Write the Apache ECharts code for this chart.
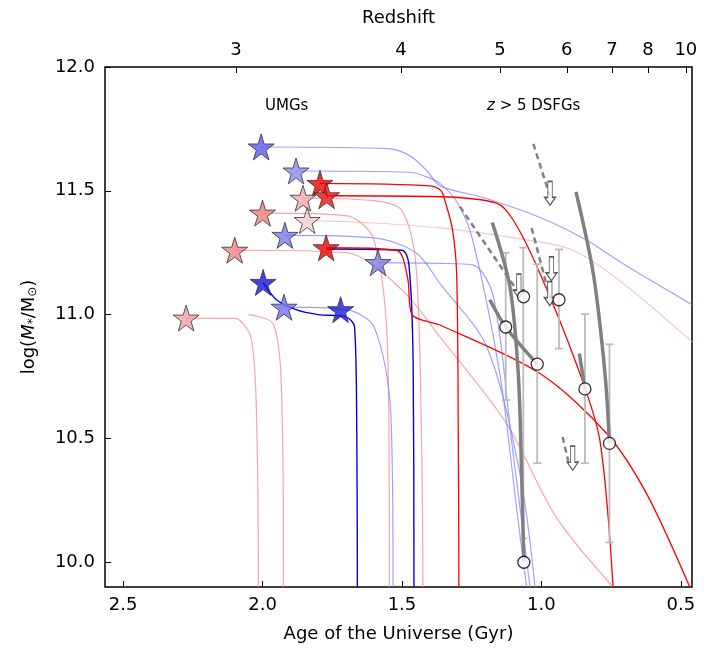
<!DOCTYPE html>
<html><head><meta charset="utf-8">
<script src="https://cdn.jsdelivr.net/npm/echarts@6/dist/echarts.min.js"></script>
<style>html,body{margin:0;background:#fff}#c{width:707px;height:649px}</style>
</head><body><div id="c"></div>
<script>
var xTicks=[2.5,2.0,1.5,1.0,0.5];
var yTicks=[10.0,10.5,11.0,11.5,12.0];
var zLabels=[3,4,5,6,7,8,10];
var zAges=[2.095,1.504,1.149,0.909,0.747,0.618,0.482];
// stars: [age, logM, colour]
var stars=[[2.005,11.677,'#5a5aee'],[1.88,11.58,'#8a8aee'],[1.794,11.53,'#ee0000'],[1.77,11.48,'#ee1010'],
[1.855,11.47,'#f2a8a8'],[1.84,11.38,'#f8cccc'],[2.0,11.41,'#ee7a7a'],[1.92,11.32,'#7878ec'],[2.10,11.26,'#ee8282'],
[1.772,11.27,'#ee0000'],[1.586,11.21,'#7c7ce8'],[1.998,11.13,'#1414dd'],[1.923,11.03,'#7070ea'],[1.72,11.02,'#1a1ae0'],[2.274,10.986,'#f0a0a0']];
var trackLightBlue=[
[[2.005,11.677],[1.55,11.67],[1.47,11.64],[1.41,11.58],[1.364,11.52],[1.2,11.47],[1.0,11.39],[0.838,11.30],[0.7,11.2],[0.46,11.04]],
[[1.88,11.58],[1.47,11.575],[1.42,11.56],[1.364,11.53],[1.3,11.45],[1.246,11.30],[1.149,10.76],[1.089,10.22],[1.053,9.9]],
[[1.92,11.32],[1.6,11.31],[1.45,11.25],[1.364,11.126],[1.196,10.87],[1.077,10.358],[1.023,9.9]],
[[1.586,11.21],[1.364,11.207],[1.244,11.2],[1.172,11.072],[1.107,10.49],[1.041,9.9]],
[[1.923,11.03],[1.7,11.02],[1.6,10.95],[1.54,10.6],[1.532,9.9]]];
var trackDarkBlue=[
[[1.998,11.13],[1.95,11.06],[1.88,11.02],[1.8,11.0],[1.7,10.99],[1.67,10.95],[1.662,10.5],[1.66,9.9]],
[[1.772,11.265],[1.5,11.26],[1.475,11.2],[1.46,10.8],[1.457,9.9]]];
var trackRed=[
[[1.794,11.53],[1.4,11.52],[1.36,11.5],[1.346,11.46],[1.32,11.35],[1.304,11.166],[1.298,10.5],[1.296,9.9]],
[[1.77,11.48],[1.364,11.476],[1.161,11.45],[1.1,11.38],[1.005,11.166],[0.862,10.762],[0.79,10.49],[0.743,9.9]],
[[1.772,11.27],[1.52,11.26],[1.48,11.15],[1.464,11.0],[1.364,10.958],[1.005,10.762],[0.766,10.52],[0.623,10.277],[0.468,9.9]]];
var trackPink=[
[[1.855,11.47],[1.6,11.46],[1.5,11.42],[1.45,11.2],[1.43,10.5],[1.425,9.9]],
[[2.0,11.41],[1.7,11.4],[1.6,11.3],[1.55,10.8],[1.545,9.9]],
[[2.10,11.26],[1.7,11.25],[1.5,11.1],[1.364,10.91],[1.125,10.56],[0.946,10.18],[0.743,9.9]],
[[2.274,10.986],[2.1,10.985],[2.04,10.9],[2.02,10.5],[2.015,9.9]],
[[2.05,11.0],[1.96,10.96],[1.93,10.6],[1.925,9.9]]];
var trackPale=[[[1.84,11.38],[1.6,11.37],[1.364,11.35],[1.1,11.31],[0.886,11.26],[0.7,11.12],[0.46,10.89]]];
var dsfg=[[1.064,11.072],[0.937,11.06],[1.128,10.95],[1.015,10.80],[0.844,10.70],[0.756,10.48],[1.063,10.0]];
var errBars=[[1.128,11.25,10.655],[1.065,11.27,10.096],[1.015,11.204,10.40],[0.937,11.263,10.863],[0.844,11.002,10.40],[0.756,10.88,10.08]];
var upperLimits=[[0.969,11.49],[1.081,11.115],[0.964,11.185],[0.970,11.085],[0.888,10.42]];
var grayDashed=[[[1.029,11.69],[0.970,11.48]],[[1.292,11.436],[1.077,11.08]],[[1.035,11.35],[0.970,11.07]],[[0.924,10.506],[0.904,10.41]]];
var graySolid=[[[1.176,11.372],[1.113,11.112],[1.083,10.762],[1.071,10.358],[1.063,10.0]],
[[1.185,11.06],[1.128,10.95],[1.015,10.80]],
[[0.876,11.496],[0.814,11.166],[0.772,10.762],[0.756,10.482]],
[[0.864,10.843],[0.844,10.70]]];

var starPath='path://M50,0 L61,35 L98,35 L68,57 L79,91 L50,70 L21,91 L32,57 L2,35 L39,35 Z';
var arrowPath='path://M3,0 L7,0 L7,12 L10,12 L5,18 L0,12 L3,12 Z';
var series=[];
function addLines(arr,color,w,op,type){arr.forEach(function(d){series.push({type:'line',data:d,showSymbol:false,smooth:0.3,silent:true,
 lineStyle:{color:color,width:w,opacity:op,type:type||'solid'},z:2});});}
addLines(trackPale,'#f6b8b8',1.2,0.8);
addLines(trackPink,'#f49090',1.2,0.8);
addLines(trackLightBlue,'#8080ff',1.2,0.75);
addLines(trackDarkBlue,'#0000ee',1.4,1);
addLines(trackRed,'#ff0000',1.3,1);
series.push({type:'custom',data:errBars,z:3,silent:true,renderItem:function(p,api){
 var t=api.coord([api.value(0),api.value(1)]),b=api.coord([api.value(0),api.value(2)]);var st={stroke:'#bbbbbb',lineWidth:1.8};
 return {type:'group',children:[{type:'line',shape:{x1:t[0],y1:t[1],x2:b[0],y2:b[1]},style:st},
 {type:'line',shape:{x1:t[0]-4,y1:t[1],x2:t[0]+4,y2:t[1]},style:st},{type:'line',shape:{x1:b[0]-4,y1:b[1],x2:b[0]+4,y2:b[1]},style:st}]};}});
graySolid.forEach(function(d){series.push({type:'line',data:d,showSymbol:false,smooth:0.3,silent:true,lineStyle:{color:'#808080',width:3.5},z:4});});
grayDashed.forEach(function(d){series.push({type:'line',data:d,showSymbol:false,silent:true,lineStyle:{color:'#808080',width:2.5,type:[6,4]},z:4});});
series.push({type:'scatter',data:upperLimits,symbol:arrowPath,symbolSize:[11,24],itemStyle:{color:'#fff',borderColor:'#333',borderWidth:1.2},z:5});
series.push({type:'scatter',data:dsfg,symbol:'circle',symbolSize:12,itemStyle:{color:'#fff',borderColor:'#000',borderWidth:1.3},z:6});
series.push({type:'scatter',data:stars.map(function(s){return {value:[s[0],s[1]],itemStyle:{color:s[2]}};}),symbol:starPath,symbolSize:26,
 itemStyle:{borderColor:'#333',borderWidth:1},z:7});

var ax={color:'#000',fontSize:18,fontFamily:'DejaVu Sans'};
var opt={animation:false,
 grid:{left:105,right:15,top:67,bottom:62,show:true,borderColor:'#000',borderWidth:1.5,backgroundColor:'transparent'},
 xAxis:[{type:'value',inverse:true,min:0.46,max:2.565,position:'bottom',splitLine:{show:false},
  axisLine:{show:false},axisTick:{inside:true,length:6,customValues:xTicks,lineStyle:{color:'#000'}},
  axisLabel:Object.assign({customValues:xTicks,margin:9,formatter:function(v){return v.toFixed(1);}},ax),
  name:'Age of the Universe (Gyr)',nameLocation:'middle',nameGap:38,nameTextStyle:ax},
  {type:'value',inverse:true,min:0.46,max:2.565,position:'top',splitLine:{show:false},axisLine:{show:false},
  axisTick:{inside:true,length:6,customValues:zAges,lineStyle:{color:'#000'}},
  axisLabel:Object.assign({customValues:zAges,margin:8,formatter:function(v){var i=zAges.indexOf(v);return i>=0?String(zLabels[i]):'';}},ax),
  name:'Redshift',nameLocation:'middle',nameGap:40,nameTextStyle:ax}],
 yAxis:{type:'value',min:9.9,max:12.0,splitLine:{show:false},axisLine:{show:false},
  axisTick:{inside:true,length:6,customValues:yTicks,lineStyle:{color:'#000'}},
  axisLabel:Object.assign({customValues:yTicks,margin:10,formatter:function(v){return v.toFixed(1);}},ax),
  name:'{a|log(}{i|M}{s|*}{a|/M}{s|⊙}{a|)}',nameLocation:'middle',nameGap:66,nameRotate:90,
  nameTextStyle:{rich:{a:ax,i:{color:'#000',fontSize:18,fontStyle:'italic',fontFamily:'DejaVu Sans'},s:{color:'#000',fontSize:12,fontFamily:'DejaVu Sans',verticalAlign:'bottom',padding:[8,0,0,0]}}}},
 graphic:[{type:'text',left:265,top:99,style:{text:'UMGs',fontSize:15,fontFamily:'DejaVu Sans',fill:'#000'}},
  {type:'text',left:487,top:99,style:{text:'{i|z} > 5 DSFGs',rich:{i:{fontStyle:'italic',fontSize:15,fontFamily:'DejaVu Sans'}},fontSize:15,fontFamily:'DejaVu Sans',fill:'#000'}}],
 series:series};
echarts.init(document.getElementById('c')).setOption(opt);
</script></body></html>
